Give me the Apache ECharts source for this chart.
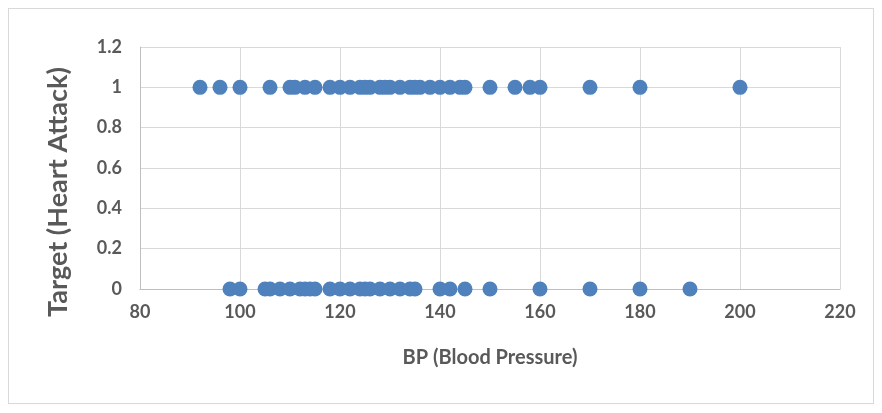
<!DOCTYPE html>
<html>
<head>
<meta charset="utf-8">
<script src="https://cdn.jsdelivr.net/npm/echarts@6/dist/echarts.min.js"></script>
<style>
  html, body { margin: 0; padding: 0; background: #fff; }
  #chart { width: 882px; height: 413px; }
  #frame { position: absolute; left: 8px; top: 8px; width: 866px; height: 396px; border: 1px solid #d9d9d9; box-sizing: border-box; pointer-events: none; }
</style>
</head>
<body>
<div id="chart"></div>
<div id="frame"></div>
<script>
// BP readings for patients with a heart attack (target = 1)
var bpTarget1 = [92, 96, 100, 106, 110, 111, 113, 115, 118, 120, 122, 124, 125, 126, 128, 129,
    130, 132, 134, 135, 136, 138, 140, 142, 144, 145, 150, 155, 158, 160, 170, 180, 200];
// BP readings for patients without (target = 0)
var bpTarget0 = [98, 100, 105, 106, 108, 110, 112, 113, 114, 115, 118, 120, 122, 124, 125, 126,
    128, 130, 132, 134, 135, 140, 142, 145, 150, 160, 170, 180, 190];

var points = bpTarget1.map(function (v) { return [v, 1]; })
    .concat(bpTarget0.map(function (v) { return [v, 0]; }));

var labelFont = { color: '#595959', fontFamily: 'Lato', fontWeight: 'bold' };

var myChart = echarts.init(document.getElementById('chart'));
var option = {
    backgroundColor: '#fff',
    animation: false,
    grid: {
        left: 140,
        right: 42,
        top: 47,
        bottom: 124
    },
    xAxis: {
        type: 'value',
        min: 80,
        max: 220,
        interval: 20,
        name: 'BP (Blood Pressure)',
        nameLocation: 'middle',
        nameGap: 59,
        nameTextStyle: Object.assign({ fontSize: 20 }, labelFont),
        axisLine: { show: true, lineStyle: { color: '#bfbfbf' } },
        axisTick: { show: false },
        axisLabel: Object.assign({ fontSize: 18, margin: 14 }, labelFont),
        splitLine: { show: true, lineStyle: { color: '#d9d9d9' } }
    },
    yAxis: {
        type: 'value',
        min: 0,
        max: 1.2,
        interval: 0.2,
        name: 'Target (Heart Attack)',
        nameLocation: 'middle',
        nameGap: 68,
        nameTextStyle: Object.assign({ fontSize: 27, padding: [0, 48, 0, 0] }, labelFont),
        axisLine: { show: true, lineStyle: { color: '#bfbfbf' } },
        axisTick: { show: false },
        axisLabel: Object.assign({ fontSize: 18, margin: 18 }, labelFont),
        splitLine: { show: true, lineStyle: { color: '#d9d9d9' } }
    },
    series: [{
        type: 'scatter',
        data: points,
        symbolSize: 15,
        itemStyle: { color: '#4f81bd', opacity: 1 }
    }]
};
myChart.setOption(option);
</script>
</body>
</html>
